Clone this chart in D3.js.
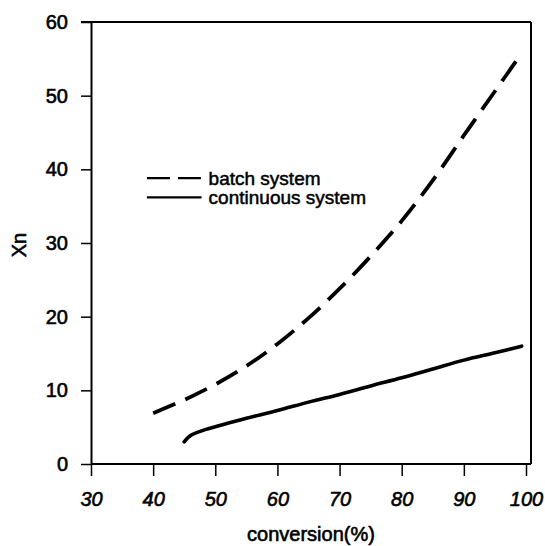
<!DOCTYPE html>
<html>
<head>
<meta charset="utf-8">
<script src="https://cdn.jsdelivr.net/npm/d3@7"></script>
<style>
  html, body { margin: 0; padding: 0; background: #fff; }
  svg text { font-family: "Liberation Sans", Arial, sans-serif; fill: #000; }
</style>
</head>
<body>
<svg id="chart" width="545" height="546"></svg>
<script>
// ---- data ----
const batchX = [40, 45, 50, 55, 60, 65, 70, 75, 80, 85, 90, 95, 99];
const batchY = [6.9, 8.7, 10.8, 13.3, 16.3, 19.8, 23.8, 28.2, 33.0, 38.5, 44.6, 50.6, 55.4];
const contX = [45, 45.5, 46, 47, 48.5, 50, 55, 60, 65, 70, 75, 80, 85, 90, 95, 99.3];
const contY = [3.0, 3.5, 3.85, 4.25, 4.7, 5.05, 6.2, 7.25, 8.4, 9.45, 10.6, 11.7, 12.9, 14.1, 15.1, 16.0];
const xTicks = [30, 40, 50, 60, 70, 80, 90, 100];
const yTicks = [0, 10, 20, 30, 40, 50, 60];
const seriesNames = ["batch system", "continuous system"];
const xTitle = "conversion(%)";
const yTitle = "Xn";

// ---- layout ----
const svg = d3.select("#chart");
const pL = 91, pR = 526, pT = 22, pB = 464, frameRight = 531;
const x = d3.scaleLinear().domain([30, 100]).range([pL, pR]);
const y = d3.scaleLinear().domain([0, 60]).range([pB, pT]);

// frame (top and right)
svg.append("line").attr("x1", pL - 10).attr("x2", frameRight)
  .attr("y1", y(60)).attr("y2", y(60)).attr("stroke", "#000").attr("stroke-width", 2);
svg.append("line").attr("x1", frameRight).attr("x2", frameRight)
  .attr("y1", y(60)).attr("y2", y(0)).attr("stroke", "#000").attr("stroke-width", 2);

// axes
const xAxis = svg.append("g").attr("transform", `translate(0,${y(0)})`)
  .call(d3.axisBottom(x).tickValues(xTicks).tickSize(12).tickPadding(16).tickSizeOuter(0));
xAxis.select(".domain").attr("d", `M${pL},0H${frameRight}`).attr("stroke-width", 2);
xAxis.selectAll(".tick line").attr("stroke-width", 1.5);
xAxis.selectAll(".tick text").attr("font-size", 20).attr("font-style", "italic")
  .attr("stroke", "#000").attr("stroke-width", 0.6).style("font-family", '"Liberation Sans", Arial, sans-serif');

const yAxis = svg.append("g").attr("transform", `translate(${pL},0)`)
  .call(d3.axisLeft(y).tickValues(yTicks).tickSize(10).tickPadding(13).tickSizeOuter(0));
yAxis.select(".domain").attr("stroke-width", 2);
yAxis.selectAll(".tick line").attr("stroke-width", 1.5);
yAxis.selectAll(".tick text").attr("font-size", 20)
  .attr("stroke", "#000").attr("stroke-width", 0.6).style("font-family", '"Liberation Sans", Arial, sans-serif');

// titles
svg.append("text").attr("x", (pL + frameRight) / 2).attr("y", 541)
  .attr("text-anchor", "middle").attr("font-size", 20)
  .attr("stroke", "#000").attr("stroke-width", 0.6).text(xTitle);
svg.append("text").attr("transform", `translate(26,245) rotate(-90)`)
  .attr("text-anchor", "middle").attr("font-size", 20)
  .attr("stroke", "#000").attr("stroke-width", 0.6).text(yTitle);

// lines
const line = d3.line().x(d => x(d[0])).y(d => y(d[1])).curve(d3.curveCatmullRom.alpha(0.5));
const batch = batchX.map((v, i) => [v, batchY[i]]);
const cont = contX.map((v, i) => [v, contY[i]]);

svg.append("path").datum(batch).attr("d", line).attr("fill", "none")
  .attr("stroke", "#000").attr("stroke-width", 3.8).attr("stroke-dasharray", "24,11");
svg.append("path").datum(cont).attr("d", line).attr("fill", "none")
  .attr("stroke", "#000").attr("stroke-width", 3.6).attr("stroke-linecap", "round");

// legend
const legend = svg.append("g");
const lx0 = x(39), lx1 = x(47.8);
const ly = [y(38.8), y(36.2)];
legend.append("line").attr("x1", lx0).attr("x2", lx1).attr("y1", ly[0]).attr("y2", ly[0])
  .attr("stroke", "#000").attr("stroke-width", 2.2).attr("stroke-dasharray", "23,8");
legend.append("line").attr("x1", lx0).attr("x2", lx1).attr("y1", ly[1]).attr("y2", ly[1])
  .attr("stroke", "#000").attr("stroke-width", 2.2);
seriesNames.forEach((n, i) => {
  legend.append("text").attr("x", lx1 + 7).attr("y", ly[i] + 7)
    .attr("font-size", 19).attr("stroke", "#000").attr("stroke-width", 0.5).text(n);
});
</script>
</body>
</html>
